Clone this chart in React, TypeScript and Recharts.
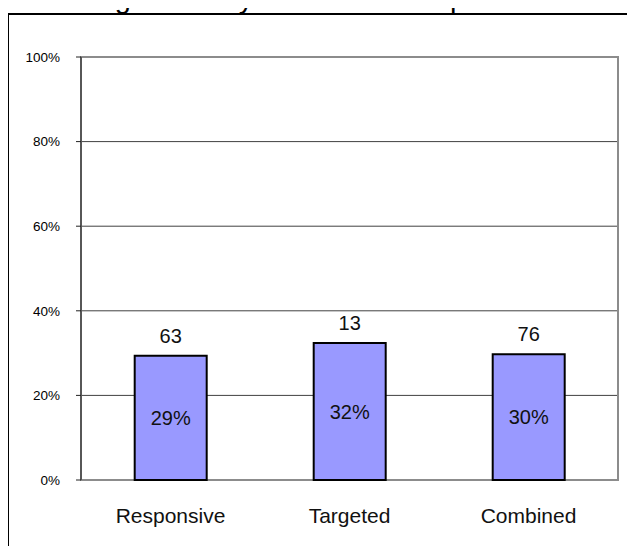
import React from 'react';
import {
  BarChart,
  Bar,
  XAxis,
  YAxis,
  CartesianGrid,
  LabelList,
  ReferenceArea,
} from 'recharts';

const title = 'Funding Rates by Number of Proposals';
const categories = ['Responsive', 'Targeted', 'Combined'];
const fundingRates = [0.294, 0.324, 0.297];
const fundedCounts = [63, 13, 76];
const yTicks = [0, 0.2, 0.4, 0.6, 0.8, 1];
const gridValues = [0.2, 0.4, 0.6, 0.8];
const boundaryTicks = [0, 1, 2, 3];

const data = categories.map((category, i) => ({
  category,
  rate: fundingRates[i],
  count: fundedCounts[i],
}));

const pct = (v: any) => `${Math.round(Number(v) * 100)}%`;

const FONT = '"Liberation Sans", Arial, sans-serif';

export default function App() {
  return (
    <div
      style={{
        position: 'relative',
        width: 635,
        height: 554,
        margin: -8,
        overflow: 'hidden',
        background: '#fff',
        fontFamily: FONT,
      }}
    >
      <div
        style={{
          position: 'absolute',
          left: 7,
          top: 13,
          width: 800,
          height: 800,
          borderLeft: '2px solid #000',
          borderTop: '2px solid #000',
        }}
      />
      <div style={{ position: 'absolute', left: 0, top: 0 }}>
        <BarChart
          width={635}
          height={554}
          data={data}
          margin={{ top: 57, right: 17, bottom: 0, left: 0 }}
          barCategoryGap="30%"
          style={{ fontFamily: FONT }}
        >
          <CartesianGrid
            xAxisId="cat"
            vertical={false}
            horizontalValues={gridValues}
            stroke="#404040"
          />
          <ReferenceArea
            xAxisId="cat"
            y1={0}
            y2={1}
            fill="none"
            stroke="#8c8c8c"
            strokeWidth={2}
          />
          <XAxis
            xAxisId="bounds"
            type="number"
            domain={[0, 3]}
            allowDataOverflow
            ticks={boundaryTicks}
            interval={0}
            height={0}
            tickSize={6}
            tickFormatter={() => ''}
            axisLine={{ stroke: '#222' }}
            tickLine={{ stroke: '#222' }}
          />
          <XAxis
            xAxisId="cat"
            dataKey="category"
            height={74}
            interval={0}
            tickSize={0}
            tickLine={false}
            axisLine={false}
            tickMargin={28}
            tick={{ fill: '#111', fontSize: 21, fontFamily: FONT }}
          />
          <YAxis
            domain={[0, 1]}
            ticks={yTicks}
            interval={0}
            tickFormatter={pct}
            width={81}
            tickSize={5}
            tickMargin={16}
            axisLine={{ stroke: '#222' }}
            tickLine={{ stroke: '#222' }}
            tick={{ fill: '#000', fontSize: 13.5, fontFamily: FONT }}
          />
          <Bar
            xAxisId="cat"
            dataKey="rate"
            fill="#9999FF"
            stroke="#000"
            strokeWidth={2}
            isAnimationActive={false}
          >
            <LabelList
              dataKey="count"
              position="top"
              offset={13}
              fill="#111"
              fontSize={20}
              fontFamily={FONT}
            />
            <LabelList
              dataKey="rate"
              position="center"
              formatter={pct}
              fill="#111"
              fontSize={20}
              fontFamily={FONT}
            />
          </Bar>
        </BarChart>
      </div>
      <svg
        width={635}
        height={40}
        style={{ position: 'absolute', left: 0, top: 0, overflow: 'visible' }}
      >
        <text x={26} y={8} fontSize={29} fill="#000" fontFamily={FONT}>
          {title}
        </text>
      </svg>
    </div>
  );
}
